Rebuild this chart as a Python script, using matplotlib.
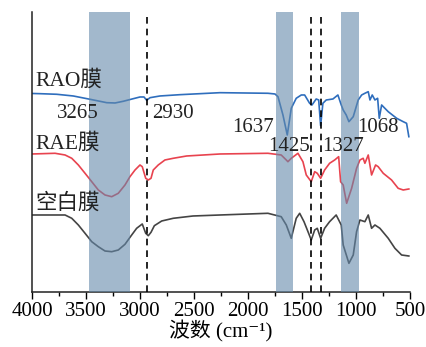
import matplotlib
matplotlib.use("Agg")
import matplotlib.pyplot as plt
from matplotlib.ticker import MultipleLocator

# ---- data (intensities in arbitrary units) ----
wn_rao = [4000, 3926, 3771, 3618, 3463, 3308, 3231, 3155, 3062, 3000, 2963, 2938, 2907, 2815,
          2630, 2259, 1815, 1750,
          1722, 1676, 1636, 1599, 1553, 1506, 1475, 1429, 1407, 1368, 1345, 1327, 1306, 1275,
          1213, 1167, 1136, 1118, 1090, 1065, 1025, 979, 947, 917, 886, 870, 849, 824, 799,
          784, 762, 701, 623, 562, 531, 510]
t_rao = [198.5, 198.3, 197.7, 196, 192.7, 189.3, 189, 190.7, 193.3, 195, 195, 191.7, 194.3, 196,
         197.3, 199.3, 198.7, 198,
         195.3, 177, 157, 183.7, 193.7, 197, 197, 188.7, 187, 193, 192, 166.3, 188.7, 192,
         193, 197, 187, 182, 177, 170.3, 175.3, 192, 197, 198.7, 200.3, 192, 197, 192, 193.7,
         173.7, 187, 180.3, 173.7, 170.3, 168.7, 155.3]

wn_rae = [4000, 3787, 3694, 3632, 3571, 3509, 3447, 3386, 3324, 3262, 3201, 3139, 3093, 3046,
          3000, 2979, 2947, 2923, 2898, 2877, 2831, 2769, 2692, 2568, 2259,
          1815, 1692, 1645, 1630, 1599, 1537, 1491, 1460, 1414, 1382,
          1358, 1327, 1290, 1244, 1197, 1160, 1142, 1118, 1086, 1040, 994, 963, 933, 917, 886,
          855, 818, 794, 747, 670, 609, 562, 510]
t_rae = [138, 138.7, 137, 133.7, 127, 118.7, 110.3, 102, 97, 95.3, 98.7, 107, 115.3, 122,
         127, 125.3, 113.7, 112, 113.7, 122, 127, 132, 133.7, 136, 138,
         138.7, 137, 132, 130.3, 133.7, 138.7, 130.3, 117, 110.3, 120.3,
         118.7, 113.7, 122, 128.7, 132, 135.3, 110.3, 107, 88.7, 103.7, 123.7, 132, 133.7, 128.7, 137,
         117, 127, 125.3, 118.7, 112, 103.7, 102, 103]

wn_blank = [4000, 3787, 3694, 3632, 3571, 3509, 3447, 3386, 3324, 3262, 3201, 3139, 3077, 3031,
            2979, 2947, 2923, 2898, 2867, 2799, 2692, 2509, 2259,
            1815, 1692, 1645, 1599, 1553, 1521, 1481, 1444, 1414, 1382, 1358, 1327,
            1290, 1244, 1183, 1136, 1118, 1065, 1025, 994, 963, 917, 886, 855, 824, 778, 701,
            639, 577, 510]
t_blank = [77, 77, 77, 73.7, 67, 58.7, 50.3, 45.3, 41, 40.3, 42, 47.7, 57, 63.7,
           68, 58.7, 56.3, 59.7, 66.3, 71, 73.7, 76, 77,
           78.7, 75.3, 67, 53.7, 73.7, 78.7, 70.3, 60.3, 52, 62, 63.7, 53.7,
           63.7, 70.3, 77, 67, 47, 28.7, 37, 60.3, 72, 70.3, 77, 63.7, 67, 63.7, 53.7,
           43.7, 37, 36]

series_names = ["RAO膜", "RAE膜", "空白膜"]
bands = [(3470, 3090), (1740, 1580), (1140, 975)]
dashed_lines = [2932, 1418, 1322]
peak_labels = ["3265", "2930", "1637", "1425", "1327", "1068"]
xticks = [4000, 3500, 3000, 2500, 2000, 1500, 1000, 500]

# ---- styling ----
serif = ["Liberation Serif", "Noto Sans CJK SC", "DejaVu Sans"]
plt.rcParams["font.family"] = serif

fig = plt.figure(figsize=(4.27, 3.47), dpi=100)
ax = fig.add_axes([0.075, 0.1585, 0.885, 0.807])

c_blue = "#2f6ebd"
c_red = "#e8434f"
c_gray = "#444444"

ax.plot(wn_rao, t_rao, color=c_blue, lw=1.2, zorder=2)
ax.plot(wn_rae, t_rae, color=c_red, lw=1.2, zorder=2)
ax.plot(wn_blank, t_blank, color=c_gray, lw=1.2, zorder=2)

for a, b in bands:
    ax.axvspan(a, b, color="#6489aa", alpha=0.6, lw=0, zorder=3)
for d in dashed_lines:
    ax.axvline(d, color="black", lw=1.2, ls=(0, (4, 3)), zorder=4)

ax.set_xlim(4000, 500)
ax.set_ylim(0, 280)

# series labels
label_pos = [(3972, 212), (3972, 149), (3972, 89)]
for name, (x, y) in zip(series_names, label_pos):
    ax.text(x, y, name, fontsize=15.5, ha="left", va="center", color="#222222", zorder=5)

# peak labels
peak_pos = [(3574, 178), (2694, 178), (1954, 164.5), (1620, 145), (1123, 145), (796, 164.5)]
for lab, (x, y) in zip(peak_labels, peak_pos):
    ax.text(x, y, lab, fontsize=15, ha="center", va="center", color="#222222", zorder=5)

ax.set_xticks(xticks)
ax.set_xticklabels([str(t) for t in xticks])
ax.xaxis.set_minor_locator(MultipleLocator(250))
ax.tick_params(axis="x", which="major", direction="out", length=5, width=1, labelsize=15, pad=2)
ax.tick_params(axis="x", which="minor", direction="out", length=3, width=1)
ax.set_yticks([])
for s in ["top", "right"]:
    ax.spines[s].set_visible(False)
for s in ["left", "bottom"]:
    ax.spines[s].set_linewidth(1.1)
    ax.spines[s].set_color("#222222")

ax.set_xlabel("波数 (cm\u207b\u00b9)", fontsize=15, labelpad=0)

fig.savefig("out.png", dpi=100)
